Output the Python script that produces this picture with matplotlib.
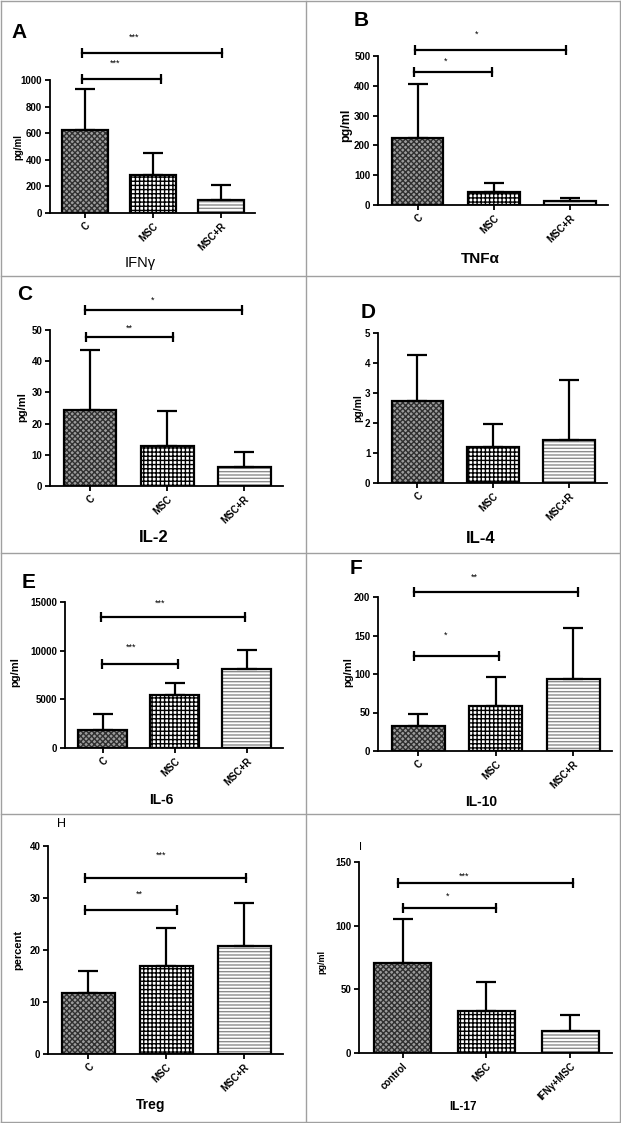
import numpy as np
import matplotlib.pyplot as plt
from matplotlib.lines import Line2D

plt.rcParams['font.family'] = ['Liberation Sans', 'DejaVu Sans']
plt.rcParams['hatch.linewidth'] = 1.0

groups = ["C", "MSC", "MSC+R"]
groups_il17 = ["control", "MSC", "IFNγ+MSC"]

ifng_mean = [625, 282, 100]
ifng_sd = [305, 168, 112]
tnfa_mean = [226, 42, 15]
tnfa_sd = [179, 31, 10]
il2_mean = [24.3, 12.8, 6.1]
il2_sd = [19.3, 11.2, 4.8]
il4_mean = [2.72, 1.19, 1.44]
il4_sd = [1.56, 0.79, 2.0]
il6_mean = [1880, 5480, 8150]
il6_sd = [1650, 1200, 1880]
il10_mean = [32, 58, 94]
il10_sd = [16.5, 38, 66]
treg_mean = [11.7, 16.9, 20.8]
treg_sd = [4.3, 7.3, 8.3]
il17_mean = [70.4, 32.6, 17.5]
il17_sd = [34.5, 23, 12]

W, H = 621, 1123
fig = plt.figure(figsize=(W / 100, H / 100), dpi=100)

styles = [('#9c9c9c', 'xxxxxx', '#303030'),
          ('white', '++++', 'black'),
          ('white', '-----', '#8c8c8c')]


def px2fig(x, y):
    return x / W, 1 - y / H


def px2ax(ax, x, y):
    return ax.transAxes.inverted().transform((x, H - y))


def panel(x0, x1, y0, y1, means, sds, ymax, ystep, names, ylabel, ylab_xy, ylab_fs,
          xlabel, xlab_xy, xlab_fs, letter, letter_xy, letter_fs, brackets=(),
          xlab_weight='bold', letter_weight='bold'):
    ax = fig.add_axes([x0 / W, 1 - y0 / H, (x1 - x0) / W, (y0 - y1) / H])
    x = np.arange(3)
    for i in range(3):
        face, hatch, hc = styles[i]
        ax.bar(x[i], means[i], 0.68, color=face, hatch=hatch, edgecolor=hc, lw=0)
        ax.bar(x[i], means[i], 0.68, fill=False, edgecolor='black', lw=1.6)
    ax.errorbar(x, means, yerr=[np.zeros(3), sds], fmt='none', ecolor='black',
                elinewidth=1.6, capsize=7.5, capthick=1.6, clip_on=False)
    ax.set_xlim(-0.52, 2.5)
    ax.set_ylim(0, ymax)
    ax.set_yticks(np.arange(0, ymax + ystep / 2, ystep))
    ax.set_xticks(x)
    ax.set_xticklabels(names, rotation=45, ha='right', va='top', rotation_mode='anchor')
    for s in ['top', 'right']:
        ax.spines[s].set_visible(False)
    for s in ['left', 'bottom']:
        ax.spines[s].set_linewidth(1.3)
    ax.tick_params(direction='out', length=3.5, width=1.3, labelsize=7, pad=2)
    for t in ax.get_xticklabels() + ax.get_yticklabels():
        t.set_fontweight('bold')

    ax.set_ylabel(ylabel, fontsize=ylab_fs, fontweight='bold', ha='center', va='center',
                  rotation_mode='default')
    ax.yaxis.set_label_coords(*px2ax(ax, *ylab_xy))
    ax.set_xlabel(xlabel, fontsize=xlab_fs, fontweight=xlab_weight, ha='center', va='center')
    ax.xaxis.set_label_coords(*px2ax(ax, *xlab_xy))
    fig.text(*px2fig(*letter_xy), letter, fontsize=letter_fs, fontweight=letter_weight,
             ha='center', va='center')

    for (a, b, y, stars, sx, sy) in brackets:
        ax.plot([a, b], [y, y], color='black', lw=1.6, marker='|', ms=7, mew=1.6,
                clip_on=False)
        ax.text(sx, sy, stars, fontsize=6.5, ha='center', va='center')
    return ax


panel(50, 255, 213, 80, ifng_mean, ifng_sd, 1000, 200, groups,
      'pg/ml', (18, 147), 7, 'IFNγ', (140, 263), 10.5, 'A', (19, 33), 15,
      brackets=[(-0.05, 2.02, 1200, '***', 0.72, 1320),
                (-0.05, 1.12, 1005, '***', 0.44, 1125)],
      xlab_weight='normal')

panel(378, 608, 205, 56, tnfa_mean, tnfa_sd, 500, 100, groups,
      'pg/ml', (346, 125), 9, 'TNFα', (480, 259), 11, 'B', (361, 20), 15,
      brackets=[(-0.03, 1.95, 520, '*', 0.78, 573),
                (-0.05, 0.98, 447, '*', 0.37, 483)])

panel(50, 283, 486, 330, il2_mean, il2_sd, 50, 10, groups,
      'pg/ml', (22, 407), 8, 'IL-2', (154, 538), 12, 'C', (25, 294), 15,
      brackets=[(-0.06, 1.97, 56.4, '*', 0.81, 59.6),
                (-0.05, 1.08, 47.9, '**', 0.51, 50.5)])

panel(378, 607, 483, 333, il4_mean, il4_sd, 5, 1, groups,
      'pg/ml', (358, 408), 7.5, 'IL-4', (481, 539), 12, 'D', (368, 313), 15)

panel(65, 283, 748, 602, il6_mean, il6_sd, 15000, 5000, groups,
      'pg/ml', (15, 672), 8, 'IL-6', (161, 800), 10, 'E', (29, 583), 15,
      brackets=[(-0.02, 1.97, 13459, '***', 0.8, 14897),
                (-0.01, 1.04, 8664, '***', 0.4, 10377)])

panel(378, 612, 751, 597, il10_mean, il10_sd, 200, 50, groups,
      'pg/ml', (348, 672), 8, 'IL-10', (481, 802), 10, 'F', (356, 569), 15,
      brackets=[(-0.05, 2.06, 206.5, '**', 0.72, 226),
                (-0.06, 1.04, 124, '*', 0.35, 150)])

panel(48, 283, 1054, 846, treg_mean, treg_sd, 40, 10, groups,
      'percent', (18, 950), 8, 'Treg', (151, 1105), 10, 'H', (61, 824), 9,
      brackets=[(-0.04, 2.02, 33.9, '***', 0.93, 38.2),
                (-0.04, 1.14, 27.7, '**', 0.66, 30.7)],
      letter_weight='normal')

panel(359, 612, 1053, 862, il17_mean, il17_sd, 150, 50, groups_il17,
      'pg/ml', (322, 962), 6.5, 'IL-17', (463, 1107), 8.5, 'I', (361, 847), 8,
      brackets=[(-0.05, 2.03, 133.8, '***', 0.74, 138.8),
                (0.0, 1.12, 114, '*', 0.54, 123)],
      letter_weight='normal')

# panel frame lines
frame = '#a0a0a0'
for (xa, ya, xb, yb) in [(0.5, 0.5, 619.5, 0.5), (0.5, 1122, 619.5, 1122),
                         (0.5, 0.5, 0.5, 1122), (619.5, 0.5, 619.5, 1122),
                         (306, 0.5, 306, 1122), (0.5, 276, 619.5, 276),
                         (0.5, 553, 619.5, 553), (0.5, 814, 619.5, 814)]:
    p1, p2 = px2fig(xa, ya), px2fig(xb, yb)
    fig.add_artist(Line2D([p1[0], p2[0]], [p1[1], p2[1]], color=frame, lw=1))

fig.savefig('out.png', dpi=100)
